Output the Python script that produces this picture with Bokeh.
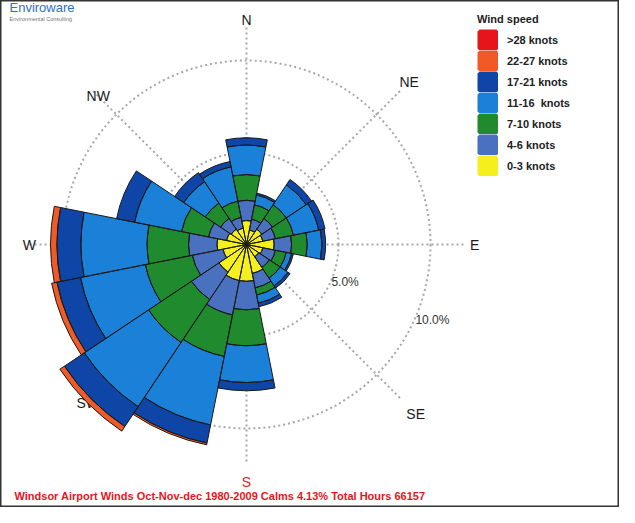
import numpy as np
from bokeh.plotting import figure
from bokeh.models import ColumnDataSource, Legend, LegendItem, Label, Range1d
from bokeh.core.properties import value
from bokeh.embed import file_html
from bokeh.resources import INLINE

# ---------------- data ----------------
directions = ["N", "NNE", "NE", "ENE", "E", "ESE", "SE", "SSE",
              "S", "SSW", "SW", "WSW", "W", "WNW", "NW", "NNW"]
speed_bins = ["0-3 knots", "4-6 knots", "7-10 knots", "11-16  knots",
              "17-21 knots", "22-27 knots", ">28 knots"]

# frequency (%) of each speed class per direction
freq_0_3   = [1.3, 0.8, 1.0, 0.9, 1.5, 0.9, 0.8, 1.6, 2.0, 2.0, 1.8, 1.3, 1.6, 1.1, 1.0, 0.9]
freq_4_6   = [1.1, 0.6, 0.7, 0.7, 0.95, 0.7, 0.7, 0.8, 1.55, 1.9, 1.8, 1.7, 1.55, 1.0, 0.7, 0.6]
freq_7_10  = [1.4, 0.8, 0.9, 1.0, 0.85, 0.6, 0.7, 0.4, 1.95, 2.3, 2.8, 2.6, 2.25, 1.5, 1.0, 0.9]
freq_11_16 = [1.6, 0.55, 1.3, 1.4, 0.8, 0.3, 0.5, 0.45, 2.0, 3.8, 4.2, 3.6, 3.6, 2.6, 1.4, 1.9]
freq_17_21 = [0.4, 0.1, 0.35, 0.35, 0.2, 0.1, 0.15, 0.2, 0.45, 1.0, 1.3, 1.3, 1.3, 1.0, 0.6, 0.3]
freq_22_27 = [0, 0, 0, 0, 0, 0, 0, 0, 0, 0.1, 0.3, 0.3, 0.35, 0, 0, 0]
freq_28    = [0, 0, 0, 0, 0, 0, 0, 0, 0, 0, 0, 0, 0, 0, 0, 0]

compass_labels = ["N", "NE", "E", "SE", "S", "SW", "W", "NW"]
ring_values = [5, 10]
ring_labels = ["5.0%", "10.0%"]
title_text = "Windsor Airport Winds Oct-Nov-dec 1980-2009 Calms 4.13% Total Hours 66157"

# ---------------- style ----------------
band_colors = ["#f6ef1e", "#4a70c0", "#1f8a2e", "#1a80d8", "#0e45a6", "#f05a26", "#e8141b"]
FONT = "Liberation Sans"
W, H = 619, 507
PX = 18.4            # pixels per percent
CX, CY = 246, 244    # centre of the rose in canvas pixels
compass_r = [12.2, 12.5, 12.4, 13.0, 12.9, 12.2, 11.8, 11.4]
compass_colors = ["#1a1a1a"] * 4 + ["#e41a1c"] + ["#1a1a1a"] * 3
spoke_len = 11.85
ring_label_bearing = 114

p = figure(width=W, height=H, output_backend="svg", toolbar_location=None,
           x_range=Range1d(-CX / PX, (W - CX) / PX),
           y_range=Range1d(-(H - CY) / PX, CY / PX),
           x_axis_location=None, y_axis_location=None, min_border=0)
p.grid.visible = False
p.outline_line_color = "#333333"
p.outline_line_width = 2
p.background_fill_color = "white"

# grid rings
p.circle(x=[0] * len(ring_values), y=[0] * len(ring_values), radius=ring_values,
         fill_color=None, line_color="#a8a8a8", line_width=2, line_dash="2 3")

# spokes
cb = np.arange(len(compass_labels)) * 45.0
ang = np.deg2rad(90 - cb)
p.segment(x0=np.zeros(len(cb)), y0=np.zeros(len(cb)),
          x1=spoke_len * np.cos(ang), y1=spoke_len * np.sin(ang),
          line_color="#a8a8a8", line_width=2, line_dash="2 3")

# compass labels
cr = np.array(compass_r)
p.text(x=cr * np.cos(ang), y=cr * np.sin(ang), text=compass_labels,
       text_color=compass_colors, text_font=value(FONT), text_font_size="14px",
       text_align="center", text_baseline="middle")

# ring labels
ra = np.deg2rad(90 - ring_label_bearing)
rv = np.array(ring_values) + 0.05
p.text(x=rv * np.cos(ra), y=rv * np.sin(ra), text=ring_labels,
       text_color="#333333", text_font=value(FONT), text_font_size="12px",
       text_align="left", text_baseline="middle")

# wedges
bands = [freq_0_3, freq_4_6, freq_7_10, freq_11_16, freq_17_21, freq_22_27, freq_28]
bearing = np.arange(len(directions)) * 22.5
half = 11.25
start = 90 - bearing - half
end = 90 - bearing + half
cum = np.zeros(len(directions))
ol = dict(inner=[], outer=[], start=[], end=[])
for vals, col in zip(bands, band_colors):
    v = np.array(vals, dtype=float)
    src = ColumnDataSource(dict(inner=cum.copy(), outer=cum + v, start=start, end=end))
    p.annular_wedge(x=0, y=0, inner_radius="inner", outer_radius="outer",
                    start_angle="start", end_angle="end",
                    start_angle_units="deg", end_angle_units="deg",
                    source=src, fill_color=col, line_color=None)
    m = v > 0
    ol["inner"] += list(cum[m]); ol["outer"] += list((cum + v)[m])
    ol["start"] += list(start[m]); ol["end"] += list(end[m])
    cum = cum + v

p.annular_wedge(x=0, y=0, inner_radius="inner", outer_radius="outer",
                start_angle="start", end_angle="end",
                start_angle_units="deg", end_angle_units="deg",
                source=ColumnDataSource(ol), fill_color=None,
                line_color="#1a1a1a", line_width=1)

# legend (swatch-only renderers, nothing drawn on the plot)
swatches = []
for col in band_colors:
    swatches.append(p.quad(left=[np.nan], right=[np.nan], top=[np.nan], bottom=[np.nan],
                           fill_color=col, line_color=col, line_width=4.2))
items = [LegendItem(label=lbl, renderers=[r])
         for lbl, r in zip(speed_bins[::-1], swatches[::-1])]
legend = Legend(items=items, location=(477, 331), title="Wind speed",
                title_text_font=FONT, title_text_font_size="11px",
                title_text_font_style="bold", title_text_color="#222222",
                title_standoff=4,
                label_text_font=FONT, label_text_font_size="11px",
                label_text_font_style="bold", label_text_color="#222222",
                glyph_width=21, glyph_height=21, spacing=0, padding=2, margin=0,
                label_standoff=9, label_height=21,
                border_line_color=None, background_fill_alpha=0)
p.add_layout(legend)

# texts
p.add_layout(Label(x=14, y=12, x_units="screen", y_units="screen", text=title_text,
                   text_color="#e8141b", text_font=FONT, text_font_size="11px",
                   text_font_style="bold", text_baseline="middle"))
p.add_layout(Label(x=9, y=500, x_units="screen", y_units="screen", text="Enviroware",
                   text_color="#2f6fc8", text_font=FONT, text_font_size="13px",
                   text_baseline="middle"))
p.add_layout(Label(x=9, y=489, x_units="screen", y_units="screen",
                   text="Environmental Consulting",
                   text_color="#777777", text_font=FONT, text_font_size="5.5px",
                   text_baseline="middle"))

open("out.html", "w").write(file_html(p, INLINE))
